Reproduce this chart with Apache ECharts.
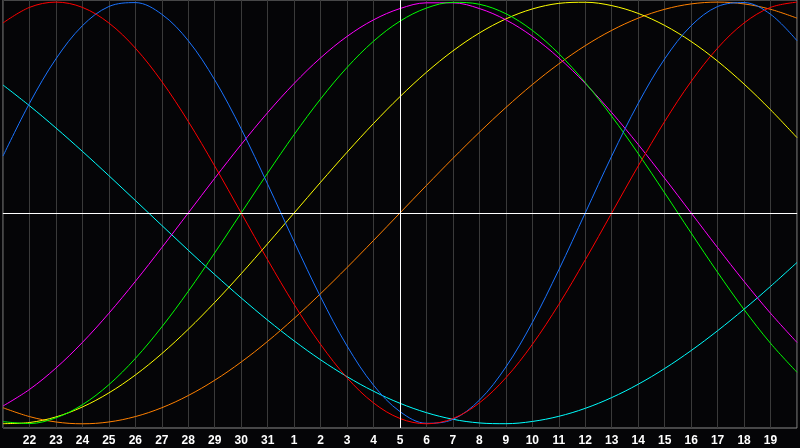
<!DOCTYPE html>
<html><head><meta charset="utf-8">
<script src="https://cdn.jsdelivr.net/npm/echarts@6/dist/echarts.min.js"></script>
<style>html,body{margin:0;padding:0;background:#050507;}#c{width:800px;height:448px;}</style>
</head><body><div id="c"></div>
<script>
const days = [21,22,23,24,25,26,27,28,29,30,31,1,2,3,4,5,6,7,8,9,10,11,12,13,14,15,16,17,18,19,20];
const todayLabel = 5;
const blue = [0.2698,0.5196,0.7308,0.8879,0.9791,0.9977,0.9423,0.8170,0.6311,0.3984,0.1362,-0.1362,-0.3984,-0.6311,-0.8170,-0.9423,-0.9977,-0.9791,-0.8879,-0.7308,-0.5196,-0.2698,0,0.2698,0.5196,0.7308,0.8879,0.9791,0.9977,0.9423,0.8170];
const red = [0.9010,0.9749,1,0.9749,0.9010,0.7818,0.6235,0.4339,0.2225,0,-0.2225,-0.4339,-0.6235,-0.7818,-0.9010,-0.9749,-1,-0.9749,-0.9010,-0.7818,-0.6235,-0.4339,-0.2225,0,0.2225,0.4339,0.6235,0.7818,0.9010,0.9749,1];
const green = [-0.9898,-0.9989,-0.9718,-0.9096,-0.8146,-0.6901,-0.5406,-0.3717,-0.1893,0,0.1893,0.3717,0.5406,0.6901,0.8146,0.9096,0.9718,0.9989,0.9898,0.9450,0.8660,0.7557,0.6182,0.4582,0.2817,0.0951,-0.0951,-0.2817,-0.4582,-0.6182,-0.7557];
const magenta = [-0.9158,-0.8372,-0.7357,-0.6142,-0.4759,-0.3247,-0.1646,0,0.1646,0.3247,0.4759,0.6142,0.7357,0.8372,0.9158,0.9694,0.9966,0.9966,0.9694,0.9158,0.8372,0.7357,0.6142,0.4759,0.3247,0.1646,0,-0.1646,-0.3247,-0.4759,-0.6142];
const yellow = [-0.9993,-0.9940,-0.9675,-0.9203,-0.8536,-0.7687,-0.6673,-0.5517,-0.4244,-0.2881,-0.1456,0,0.1456,0.2881,0.4244,0.5517,0.6673,0.7687,0.8536,0.9203,0.9675,0.9940,0.9993,0.9834,0.9464,0.8894,0.8133,0.7199,0.6112,0.4894,0.3572];
const orange = [-0.9239,-0.9659,-0.9914,-1,-0.9914,-0.9659,-0.9239,-0.8660,-0.7934,-0.7071,-0.6088,-0.5,-0.3827,-0.2588,-0.1305,0,0.1305,0.2588,0.3827,0.5,0.6088,0.7071,0.7934,0.8660,0.9239,0.9659,0.9914,1,0.9914,0.9659,0.9239];
const cyan = [0.6068,0.5085,0.4031,0.2921,0.1769,0.0592,-0.0592,-0.1769,-0.2921,-0.4031,-0.5085,-0.6068,-0.6966,-0.7765,-0.8456,-0.9028,-0.9473,-0.9786,-0.9960,-0.9996,-0.9890,-0.9646,-0.9267,-0.8757,-0.8125,-0.7378,-0.6528,-0.5586,-0.4566,-0.3482,-0.2349];

const chart = echarts.init(document.getElementById('c'));
const todayIdx = days.indexOf(todayLabel);
function line(name, data, color, extra) {
  return Object.assign({
    name, type: 'line', data, smooth: 0.35, symbol: 'none',
    lineStyle: { color, width: 1 }, itemStyle: { color }, silent: true, animation: false
  }, extra || {});
}
chart.setOption({
  backgroundColor: '#050507',
  animation: false,
  grid: { left: 0, right: 1, top: 0, bottom: 20, show: true, borderColor: '#8a8a8a', borderWidth: 1, backgroundColor: 'transparent' },
  xAxis: {
    type: 'category', boundaryGap: false, data: days.map(String),
    axisLine: { lineStyle: { color: '#8a8a8a', width: 1 } },
    axisTick: { show: false },
    splitLine: { show: true, lineStyle: { color: '#3a3a3a', width: 1 } },
    axisLabel: {
      interval: 0, margin: 7, color: '#ffffff', fontWeight: 'bold', fontSize: 12,
      fontFamily: 'Liberation Sans',
      formatter: (v, i) => (i === 0 || i === days.length - 1) ? '' : v
    }
  },
  yAxis: { type: 'value', min: -1.02, max: 1.01, show: false, splitLine: { show: false } },
  series: [
    line('cyan', cyan, '#00ffff', {
      markLine: {
        silent: true, symbol: 'none', label: { show: false },
        lineStyle: { color: '#ffffff', width: 1, type: 'solid' },
        data: [{ xAxis: todayIdx }, { yAxis: 0 }]
      }
    }),
    line('orange', orange, '#ff8000'),
    line('yellow', yellow, '#ffff00'),
    line('magenta', magenta, '#ff00ff'),
    line('green', green, '#00ff00'),
    line('blue', blue, '#1a73ff'),
    line('red', red, '#ff0000')
  ]
});
</script></body></html>
